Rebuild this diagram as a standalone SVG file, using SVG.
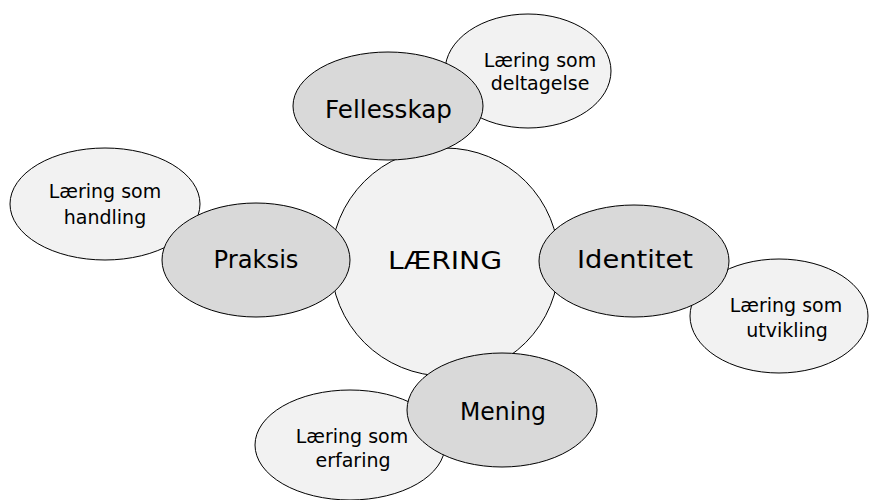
<svg xmlns="http://www.w3.org/2000/svg" width="869" height="500" viewBox="0 0 869 500">
  <style>
    .core { fill: #f2f2f2; stroke: #000; stroke-width: 1; }
    .main { fill: #d9d9d9; stroke: #000; stroke-width: 1; }
    .sub { fill: #f2f2f2; stroke: #000; stroke-width: 1; }
    text { font-family: "DejaVu Sans", "Liberation Sans", sans-serif; fill: #000; text-anchor: middle; }
    .big { font-size: 24px; }
    .small { font-size: 19px; }
  </style>
  <rect width="869" height="500" fill="#fff"/>

  <!-- central concept -->
  <g id="laering">
    <circle class="core" cx="445" cy="262" r="114"/>
    <text class="big" x="445" y="269" textLength="114" lengthAdjust="spacingAndGlyphs">LÆRING</text>
  </g>

  <!-- outer descriptions (drawn first, sit behind the components) -->
  <g id="deltagelse">
    <ellipse class="sub" cx="528" cy="71" rx="83" ry="57"/>
    <text class="small" x="540" y="67">Læring som</text>
    <text class="small" x="540" y="90">deltagelse</text>
  </g>
  <g id="handling">
    <ellipse class="sub" cx="105" cy="204" rx="95" ry="56"/>
    <text class="small" x="105" y="198">Læring som</text>
    <text class="small" x="105" y="224">handling</text>
  </g>
  <g id="utvikling">
    <ellipse class="sub" cx="779" cy="316" rx="89" ry="57"/>
    <text class="small" x="786" y="312">Læring som</text>
    <text class="small" x="787" y="337">utvikling</text>
  </g>
  <g id="erfaring">
    <ellipse class="sub" cx="350" cy="445" rx="95" ry="55"/>
    <text class="small" x="352" y="443">Læring som</text>
    <text class="small" x="353" y="467">erfaring</text>
  </g>

  <!-- components of learning -->
  <g id="fellesskap">
    <ellipse class="main" cx="388" cy="106" rx="95" ry="54"/>
    <text class="big" x="388.5" y="118" textLength="127" lengthAdjust="spacingAndGlyphs">Fellesskap</text>
  </g>
  <g id="praksis">
    <ellipse class="main" cx="256" cy="260" rx="94" ry="57"/>
    <text class="big" x="256" y="268" textLength="85" lengthAdjust="spacingAndGlyphs">Praksis</text>
  </g>
  <g id="identitet">
    <ellipse class="main" cx="634" cy="261" rx="95" ry="56"/>
    <text class="big" x="635" y="268" textLength="116" lengthAdjust="spacingAndGlyphs">Identitet</text>
  </g>
  <g id="mening">
    <ellipse class="main" cx="502" cy="410" rx="95" ry="57"/>
    <text class="big" x="503" y="420" textLength="86" lengthAdjust="spacingAndGlyphs">Mening</text>
  </g>
</svg>
